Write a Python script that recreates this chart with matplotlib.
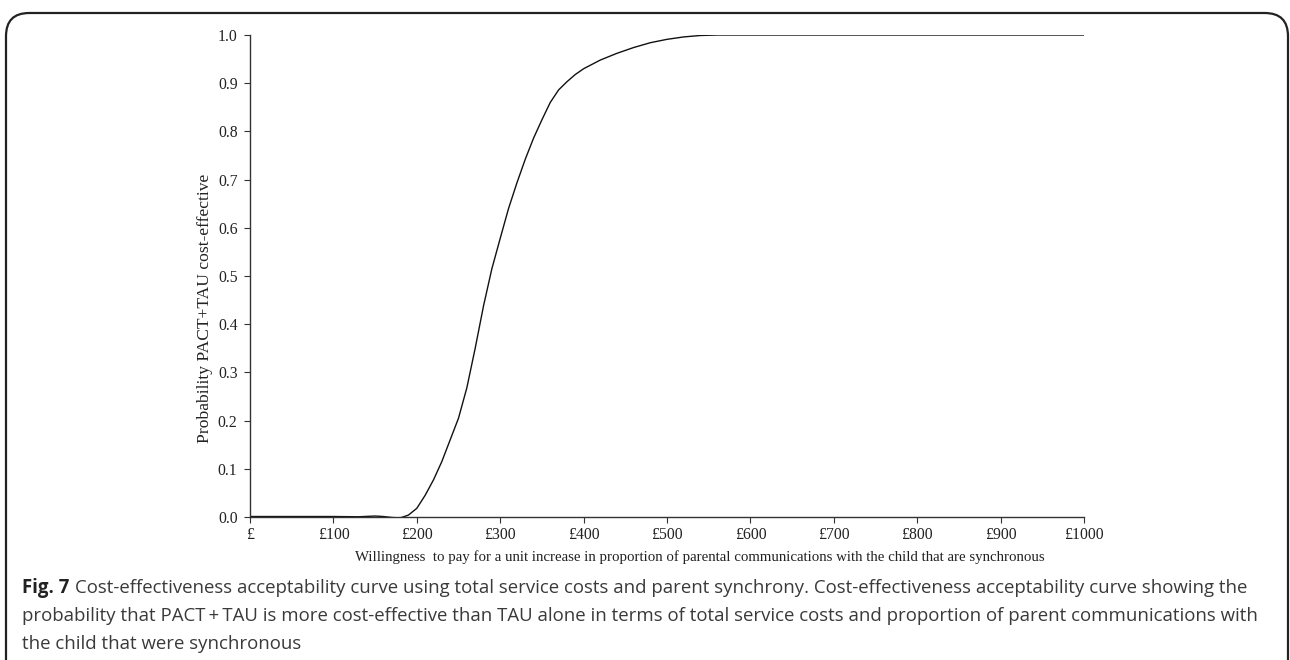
import matplotlib
matplotlib.use("Agg")
import matplotlib.pyplot as plt
from matplotlib.patches import FancyBboxPatch

wtp = [0, 50, 100, 130, 150, 160, 170, 180, 190, 200, 210, 220, 230, 240, 250,
       260, 270, 280, 290, 300, 310, 320, 330, 340, 350, 360, 370, 380, 390,
       400, 420, 440, 460, 480, 500, 520, 540, 560, 600, 700, 800, 900, 1000]
prob = [0.001, 0.001, 0.001, 0.0005, 0.002, 0.001, -0.001, -0.002, 0.004, 0.018,
        0.045, 0.077, 0.115, 0.16, 0.205, 0.268, 0.35, 0.438, 0.515, 0.578, 0.64,
        0.693, 0.742, 0.786, 0.824, 0.86, 0.886, 0.903, 0.918, 0.93, 0.948,
        0.962, 0.974, 0.984, 0.991, 0.996, 0.999, 1.0, 1.0, 1.0, 1.0, 1.0, 1.0]
xticks = [0, 100, 200, 300, 400, 500, 600, 700, 800, 900, 1000]
xticklabels = ["£", "£100", "£200", "£300", "£400", "£500", "£600", "£700", "£800", "£900", "£1000"]
yticks = [0.0, 0.1, 0.2, 0.3, 0.4, 0.5, 0.6, 0.7, 0.8, 0.9, 1.0]

W, H = 1290, 660
fig = plt.figure(figsize=(W / 100, H / 100), dpi=100)

# rounded frame
frame = FancyBboxPatch((6 / W, -0.1), (1288 - 6) / W, (H - 13) / H + 0.1,
                       boxstyle="round,pad=0,rounding_size=0.018",
                       transform=fig.transFigure, fill=False,
                       edgecolor="#222222", linewidth=1.6, mutation_aspect=W / H)
fig.patches.append(frame)

ax = fig.add_axes([250 / W, 1 - 517 / H, (1084 - 250) / W, (517 - 35) / H])
ax.plot(wtp, prob, color="#111111", linewidth=1.0, solid_joinstyle="round")
ax.set_xlim(0, 1000)
ax.set_ylim(0, 1.0)
ax.set_xticks(xticks)
ax.set_xticklabels(xticklabels)
ax.set_yticks(yticks)
ax.set_yticklabels([f"{v:.1f}" for v in yticks])
for s in ["top", "right"]:
    ax.spines[s].set_visible(False)
for s in ["left", "bottom"]:
    ax.spines[s].set_color("#333333")
    ax.spines[s].set_linewidth(1.0)
ax.tick_params(direction="out", length=4, width=0.8, color="#333333",
               labelsize=11.3, labelcolor="#222222")
ax.tick_params(axis="y", pad=5)
ax.tick_params(axis="x", pad=3)
for lab in ax.get_xticklabels() + ax.get_yticklabels():
    lab.set_fontfamily("Liberation Serif")

fig.text(700 / W, 1 - 557 / H,
         "Willingness  to pay for a unit increase in proportion of parental communications with the child that are synchronous",
         fontfamily="Liberation Serif", fontsize=10.7, color="#222222",
         ha="center", va="center")
fig.text(205 / W, 1 - 308 / H, "Probability PACT+TAU cost-effective",
         fontfamily="Liberation Serif", fontsize=12.6, color="#222222",
         ha="center", va="center", rotation=90)
ax.margins(0)

cap_lines = [
    ("Cost-effectiveness acceptability curve using total service costs and parent synchrony. Cost-effectiveness acceptability curve showing the"),
    ("probability that PACT\u2009+\u2009TAU is more cost-effective than TAU alone in terms of total service costs and proportion of parent communications with"),
    ("the child that were synchronous"),
]
fam = ["Open Sans", "DejaVu Sans"]
fs = 13.4
y0 = 588
dy = 28
t = fig.text(22 / W, 1 - y0 / H, "Fig. 7", family=fam, fontweight="bold",
             fontsize=fs, color="#222222", va="center")
fig.canvas.draw()
bb = t.get_window_extent()
fig.text((bb.x1 + 6) / W, 1 - y0 / H, cap_lines[0], family=fam,
         fontsize=fs, color="#3a3a3a", va="center")
for i, line in enumerate(cap_lines[1:], start=1):
    fig.text(22 / W, 1 - (y0 + i * dy) / H, line, family=fam,
             fontsize=fs, color="#3a3a3a", va="center")

fig.savefig("out.png", dpi=100)
